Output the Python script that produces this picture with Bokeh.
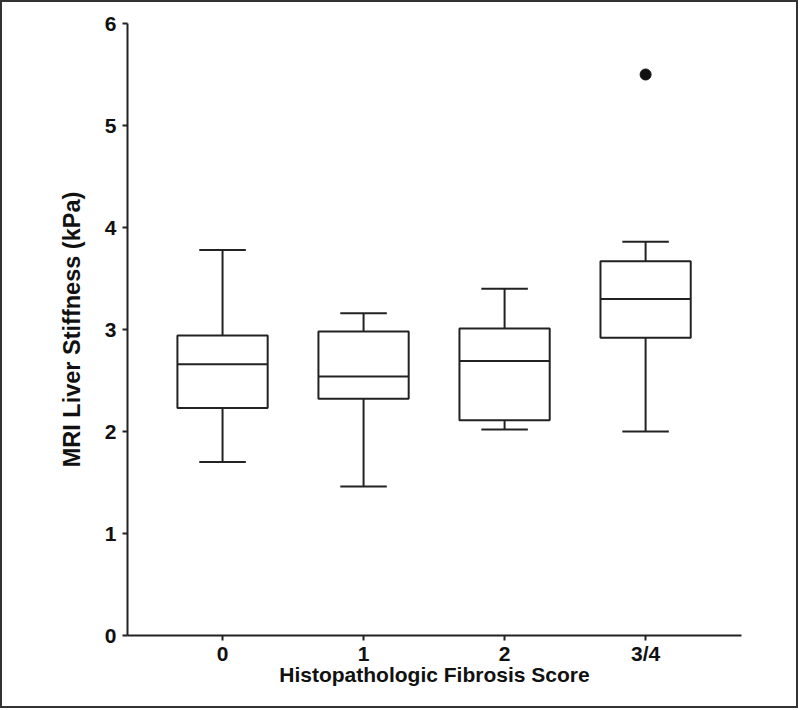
from bokeh.plotting import figure
from bokeh.models import Range1d, FixedTicker
from bokeh.embed import file_html
from bokeh.resources import INLINE

categories = ["0", "1", "2", "3/4"]
whisker_low = [1.70, 1.46, 2.02, 2.00]
q1 = [2.23, 2.32, 2.11, 2.92]
median = [2.66, 2.54, 2.69, 3.30]
q3 = [2.94, 2.98, 3.01, 3.67]
whisker_high = [3.78, 3.16, 3.40, 3.86]
outlier_cat = [3]
outlier_val = [5.50]
y_ticks = [0, 1, 2, 3, 4, 5, 6]

xs = list(range(len(categories)))
box_half = 0.32
cap_half = 0.165
ink = "#222222"

p = figure(width=798, height=708, output_backend="svg", toolbar_location=None,
           x_range=Range1d(-0.674, 3.68), y_range=Range1d(0, 6),
           min_border_left=125, min_border_right=59, min_border_top=21, min_border_bottom=75,
           styles={"border": "2px solid #333333"})
p.outline_line_color = None
p.xgrid.grid_line_color = None
p.ygrid.grid_line_color = None
p.background_fill_color = "white"
p.border_fill_color = "white"

# whiskers
p.segment(x0=xs, x1=xs, y0=q3, y1=whisker_high, line_color=ink, line_width=2)
p.segment(x0=xs, x1=xs, y0=whisker_low, y1=q1, line_color=ink, line_width=2)
# caps
p.segment(x0=[x - cap_half for x in xs], x1=[x + cap_half for x in xs], y0=whisker_high, y1=whisker_high, line_color=ink, line_width=2)
p.segment(x0=[x - cap_half for x in xs], x1=[x + cap_half for x in xs], y0=whisker_low, y1=whisker_low, line_color=ink, line_width=2)
# boxes
p.quad(left=[x - box_half for x in xs], right=[x + box_half for x in xs], bottom=q1, top=q3,
       fill_color="white", line_color=ink, line_width=2)
# medians
p.segment(x0=[x - box_half for x in xs], x1=[x + box_half for x in xs], y0=median, y1=median, line_color=ink, line_width=2)
# outlier
p.scatter(x=outlier_cat, y=outlier_val, size=11, fill_color="#111111", line_color="#111111")

font = "Liberation Sans"
p.xaxis.ticker = FixedTicker(ticks=xs, minor_ticks=[])
p.xaxis.major_label_overrides = {i: c for i, c in enumerate(categories)}
p.yaxis.ticker = FixedTicker(ticks=y_ticks, minor_ticks=[])
for ax in (p.xaxis, p.yaxis):
    ax.axis_line_color = ink
    ax.axis_line_width = 2
    ax.major_tick_line_color = ink
    ax.major_tick_line_width = 2
    ax.major_tick_out = 5
    ax.major_tick_in = 0
    ax.minor_tick_line_color = None
    ax.major_label_text_font = font
    ax.major_label_text_font_style = "bold"
    ax.major_label_text_font_size = "21px"
    ax.major_label_text_color = "#111111"
    ax.axis_label_text_font = font
    ax.axis_label_text_font_style = "bold"
    ax.axis_label_text_color = "#111111"
p.xaxis.axis_label_text_font_size = "21px"
p.yaxis.axis_label_text_font_size = "23.5px"
p.xaxis.axis_label = "Histopathologic Fibrosis Score"
p.yaxis.axis_label = "MRI Liver Stiffness (kPa)"
p.yaxis.major_label_standoff = 6
p.xaxis.major_label_standoff = 1
p.xaxis.axis_label_standoff = -5
p.yaxis.axis_label_standoff = 17

open("out.html", "w").write(file_html(p, INLINE))
